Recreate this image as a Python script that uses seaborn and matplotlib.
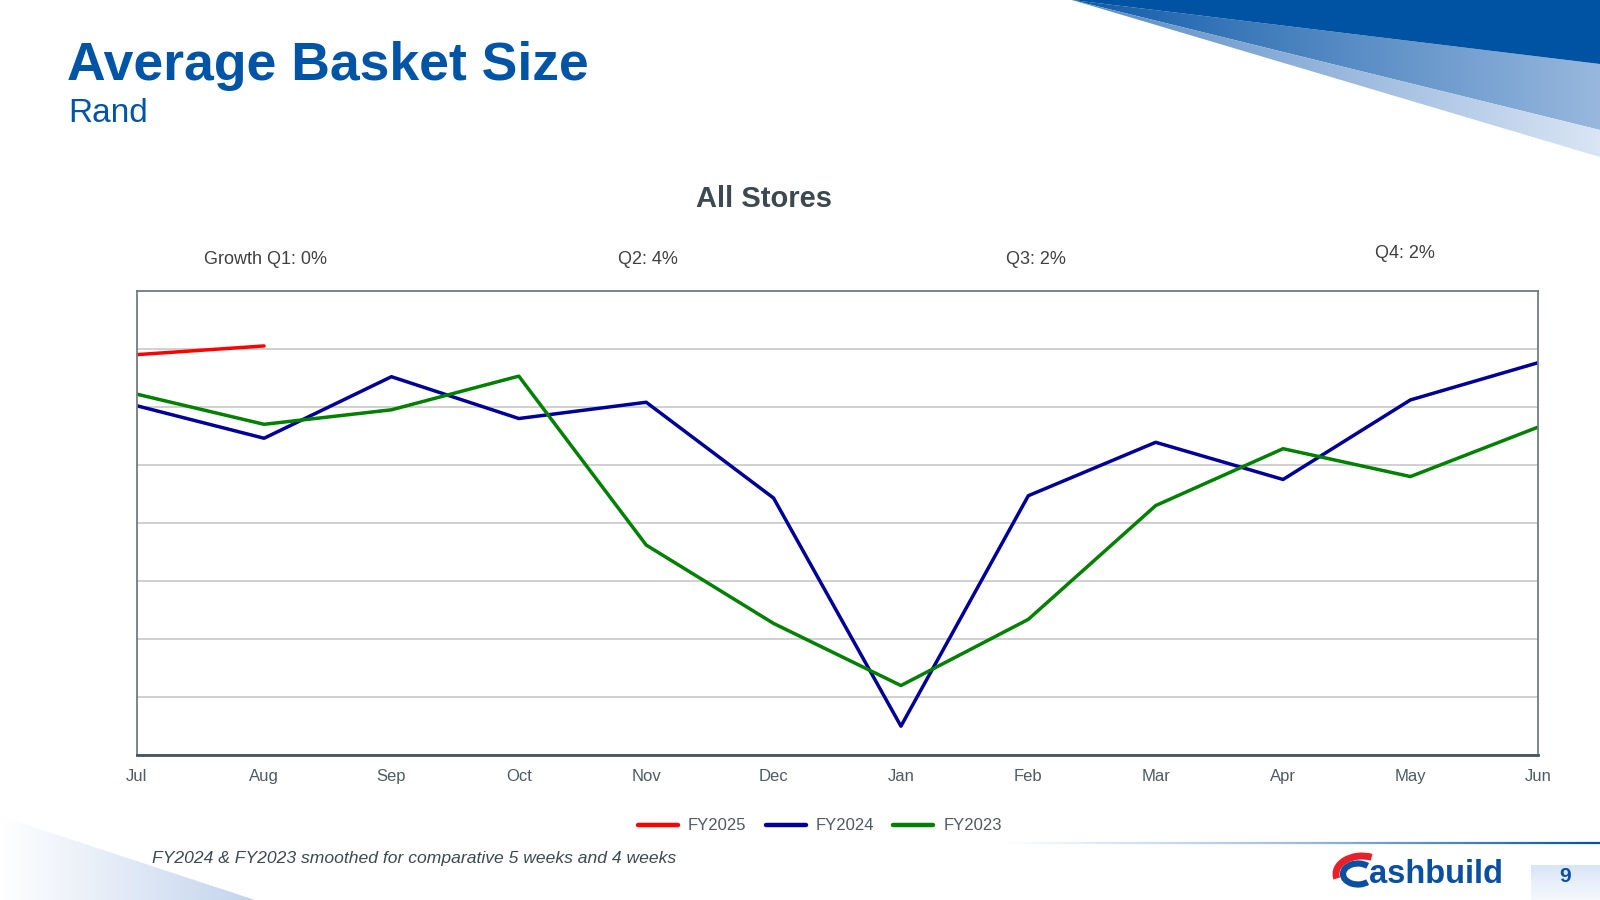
import numpy as np
import pandas as pd
import matplotlib
matplotlib.use("Agg")
import matplotlib.pyplot as plt
import seaborn as sns
from matplotlib.patches import Polygon, Arc
from matplotlib.lines import Line2D
from matplotlib.collections import LineCollection
from matplotlib.colors import LinearSegmentedColormap

# ---------------- data (index units, no y-axis scale shown) ----------------
months = ["Jul", "Aug", "Sep", "Oct", "Nov", "Dec", "Jan", "Feb", "Mar", "Apr", "May", "Jun"]
fy2025 = [6.90, 7.05]
fy2024 = [6.02, 5.46, 6.52, 5.80, 6.08, 4.43, 0.50, 4.47, 5.39, 4.75, 6.12, 6.76]
fy2023 = [6.22, 5.70, 5.95, 6.53, 3.62, 2.27, 1.20, 2.34, 4.30, 5.28, 4.80, 5.65]
series_names = ["FY2025", "FY2024", "FY2023"]
series_colors = ["#ff0000", "#000099", "#008000"]
growth_labels = ["Growth Q1: 0%", "Q2: 4%", "Q3: 2%", "Q4: 2%"]
chart_title = "All Stores"
page_title = "Average Basket Size"
page_subtitle = "Rand"
footnote = "FY2024 & FY2023 smoothed for comparative 5 weeks and 4 weeks"

rows = []
for name, vals in zip(series_names, [fy2025, fy2024, fy2023]):
    for i, v in enumerate(vals):
        rows.append({"month": i, "value": v, "series": name})
df = pd.DataFrame(rows)

sns.set_style("white")
plt.rcParams["font.family"] = ["Liberation Sans", "DejaVu Sans"]

fig = plt.figure(figsize=(16, 9), dpi=100)
fig.patch.set_facecolor("white")

# ---------------- background / decoration axes in pixel coords ----------------
bg = fig.add_axes([0, 0, 1, 1], zorder=0)
bg.set_axis_off()


def grad_poly(ax, verts, c0, c1, direction="h", z=1):
    poly = Polygon(verts, closed=True, facecolor="none", edgecolor="none")
    ax.add_patch(poly)
    xs = [v[0] for v in verts]
    ys = [v[1] for v in verts]
    cmap = LinearSegmentedColormap.from_list("g", [c0, c1])
    if direction == "h":
        arr = np.linspace(0, 1, 256).reshape(1, -1)
    else:
        arr = np.linspace(0, 1, 256).reshape(-1, 1)
    im = ax.imshow(arr, cmap=cmap, extent=(min(xs), max(xs), max(ys), min(ys)),
                   aspect="auto", interpolation="bicubic", zorder=z)
    im.set_clip_path(poly)


# top-right wedges
bg.add_patch(Polygon([(1072, 0), (1600, 0), (1600, 64)], closed=True,
                     facecolor="#0052a3", edgecolor="none", zorder=2))
grad_poly(bg, [(1072, 0), (1600, 64), (1600, 130)], "#0f5ba8", "#98b8de", "h", z=1)
grad_poly(bg, [(1072, 0), (1600, 130), (1600, 157)], "#5589c4", "#dae5f5", "h", z=1)

# bottom-left wedge
grad_poly(bg, [(0, 816), (255, 900), (0, 900)], "#ffffff", "#c3d4ed", "h", z=1)

# bottom separator line
xs_line = np.linspace(1000, 1600, 120)
segs = [[(xs_line[i], 843), (xs_line[i + 1], 843)] for i in range(len(xs_line) - 1)]
lcmap = LinearSegmentedColormap.from_list("l", ["#ffffff", "#9dbbe0", "#0054a6"])
lc = LineCollection(segs, colors=[lcmap(t) for t in np.linspace(0, 1, len(segs))],
                    linewidths=1.6, zorder=2)
bg.add_collection(lc)

# page-number box
grad_poly(bg, [(1531, 865), (1600, 865), (1600, 900), (1531, 900)], "#d9e5f5", "#f6f9fd", "v", z=1)
bg.text(1565, 876, "9", ha="center", va="center", fontsize=15, fontweight="bold",
        color="#0b4fa3", zorder=3)

# logo
bg.add_patch(Arc((1358, 874), 30, 21, theta1=40, theta2=320, color="#0b4fa3", lw=4.5, zorder=3))
bg.add_patch(Arc((1362, 874), 52, 36, theta1=170, theta2=300, color="#e8202a", lw=5, zorder=3))
bg.text(1369, 883, "ashbuild", ha="left", va="baseline", fontsize=23.5, fontweight="bold",
        color="#0b4fa3", zorder=3)

# titles
bg.text(67, 80, page_title, ha="left", va="baseline", fontsize=38.5, fontweight="bold",
        color="#0054a6", zorder=3)
bg.text(68, 122, page_subtitle, ha="left", va="baseline", fontsize=24, color="#0054a6", zorder=3)
bg.text(764, 207, chart_title, ha="center", va="baseline", fontsize=21, fontweight="bold",
        color="#3c4a50", zorder=3)

# growth labels
growth_pos = [(265, 260), (648, 260), (1036, 260), (1405, 254)]
for lab, (gx, gy) in zip(growth_labels, growth_pos):
    bg.text(gx, gy, lab, ha="center", va="center", fontsize=13, color="#404040", zorder=3)

# footnote
bg.text(152, 859, footnote, ha="left", va="center", fontsize=12.6, style="italic",
        color="#3c4a50", zorder=3)

bg.set_xlim(0, 1600)
bg.set_ylim(900, 0)

# ---------------- chart axes ----------------
ax = fig.add_axes([136.7 / 1600, 1 - 755.2 / 900, (1537.8 - 136.7) / 1600, (755.2 - 290.8) / 900],
                  zorder=5)
palette = dict(zip(series_names, series_colors))
sns.lineplot(data=df, x="month", y="value", hue="series", palette=palette,
             hue_order=series_names, linewidth=2.5, legend=False, ax=ax, sort=False)

ax.set_xlim(0, 11)
ax.set_ylim(0, 8)
ax.set_xticks(range(len(months)))
ax.set_xticklabels(months)
ax.set_yticks(np.arange(0, 9, 1))
ax.set_yticklabels([])
ax.set_xlabel("")
ax.set_ylabel("")
ax.grid(axis="y", color="#c8c8c8", lw=1.2)
ax.grid(axis="x", visible=False)
ax.set_axisbelow(True)
ax.tick_params(axis="both", length=0)
ax.tick_params(axis="x", pad=10, labelsize=12, labelcolor="#4d5b62")
for side in ["left", "top", "right"]:
    ax.spines[side].set_color("#6f7d83")
    ax.spines[side].set_linewidth(1.3)
ax.spines["bottom"].set_color("#44545a")
ax.spines["bottom"].set_linewidth(2)

handles = [Line2D([0], [0], color=c, lw=3.2) for c in series_colors]
ax.legend(handles, series_names, loc="center", bbox_to_anchor=(820 / 1600, 1 - 826 / 900),
          bbox_transform=fig.transFigure, ncol=3, frameon=False, fontsize=12,
          labelcolor="#4d5b62", handlelength=2.4, handletextpad=0.6, columnspacing=1.15)

fig.savefig("out.png", dpi=100, facecolor="white")
